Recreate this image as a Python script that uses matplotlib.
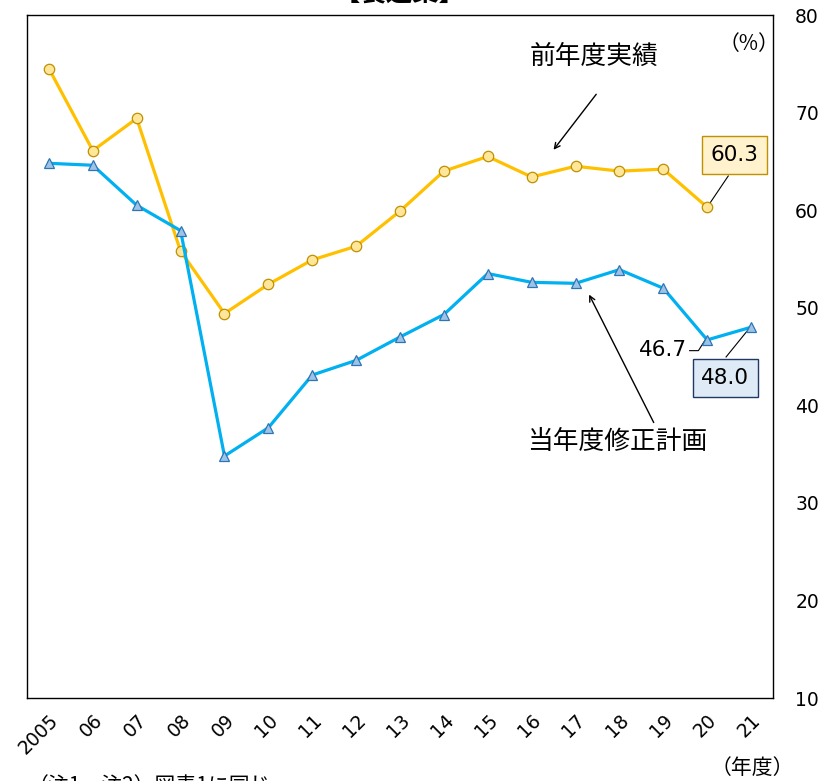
import numpy as np
import matplotlib.pyplot as plt

plt.rcParams['font.family'] = ['Noto Sans CJK JP', 'DejaVu Sans']

years = ['2005', '06', '07', '08', '09', '10', '11', '12', '13', '14',
         '15', '16', '17', '18', '19', '20', '21']
# 前年度実績 (no value for 21)
jisseki = [74.5, 66.1, 69.4, 55.8, 49.4, 52.4, 54.9, 56.3, 59.9, 64.0,
           65.5, 63.4, 64.5, 64.0, 64.2, 60.3, np.nan]
# 当年度修正計画
keikaku = [64.8, 64.6, 60.5, 57.9, 34.8, 37.7, 43.1, 44.6, 47.0, 49.3,
           53.5, 52.6, 52.5, 53.9, 52.0, 46.7, 48.0]

x = np.arange(len(years))
num = ['DejaVu Sans']

fig = plt.figure(figsize=(8.21, 7.81), dpi=100)
ax = fig.add_axes([27/821, 1-698/781, (773-27)/821, (698-15)/781])

ax.plot(x, jisseki, color='#FFC000', lw=2.3, marker='o', ms=7.5,
        mfc='#FFE699', mec='#BF9000', mew=0.9, zorder=3)
ax.plot(x, keikaku, color='#00B0F0', lw=2.3, marker='^', ms=7.5,
        mfc='#9DC3E6', mec='#2E75B6', mew=0.9, zorder=3)

ax.set_xlim(-0.5, len(years)-0.5)
ax.set_ylim(10, 80)
ax.set_yticks(range(10, 81, 10))
ax.yaxis.tick_right()
ax.tick_params(axis='y', length=0, pad=16)
ax.tick_params(axis='x', length=0, pad=9)
ax.set_xticks(x)
ax.set_xticklabels(years, rotation=45, ha='right', rotation_mode='anchor')
for lab in ax.get_xticklabels() + ax.get_yticklabels():
    lab.set_family(num)
    lab.set_fontsize(13.5)
for sp in ax.spines.values():
    sp.set_linewidth(1.0)

# 注記
ax.text(15.95, 77.0, '（%）', ha='center', va='center', fontsize=15)
ax.annotate('', xy=(11.46, 65.96), xytext=(12.51, 72.1),
            arrowprops=dict(arrowstyle='->', color='black', lw=1.0))
ax.text(12.42, 75.7, '前年度実績', ha='center', va='center', fontsize=18.5)
ax.annotate('', xy=(12.28, 51.6), xytext=(13.81, 37.98),
            arrowprops=dict(arrowstyle='->', color='black', lw=1.0))
ax.text(12.95, 36.2, '当年度修正計画', ha='center', va='center', fontsize=18.5)

ax.plot([15.0, 15.48], [jisseki[15], 63.5], color='black', lw=0.8)
ax.text(15.63, 65.65, '60.3', ha='center', va='center', fontsize=15.5, family=num,
        bbox=dict(boxstyle='square,pad=0.4', fc='#FFF2CC', ec='#BF9000', lw=1.0))
ax.plot([15.98, 15.43], [keikaku[16], 44.95], color='black', lw=0.8)
ax.text(15.41, 42.8, '48.0', ha='center', va='center', fontsize=15.5, family=num,
        bbox=dict(boxstyle='square,pad=0.4', fc='#DEEBF7', ec='#1F3864', lw=1.0))
ax.plot([14.6, 14.8, 14.97], [45.6, 45.6, keikaku[15]+0.1], color='black', lw=0.8)
ax.text(13.99, 45.65, '46.7', ha='center', va='center', fontsize=15.5, family=num)

fig.text(752/821, 1-768/781, '（年度）', ha='center', va='center', fontsize=15)
fig.text(400/821, 1-(-6)/781, '【製造業】', ha='center', va='center',
         fontsize=19, fontweight='bold')
fig.text(28/821, 1-786/781, '（注1、注2）図表1に同じ', ha='left', va='center', fontsize=15)

fig.savefig('out.png', dpi=100)
